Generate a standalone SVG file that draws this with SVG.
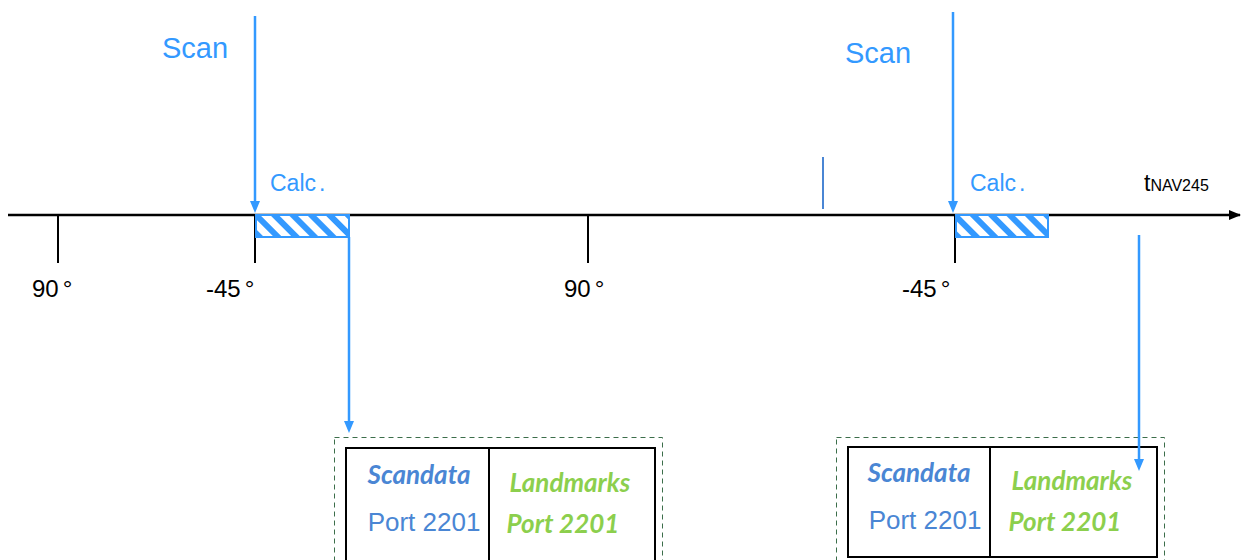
<svg xmlns="http://www.w3.org/2000/svg" width="1244" height="560" viewBox="0 0 1244 560">
<defs>
<marker id="ak" markerWidth="12" markerHeight="12" refX="11" refY="6" orient="auto" markerUnits="userSpaceOnUse">
<path d="M0,1 L12,6 L0,11 Z" fill="#000"/>
</marker>
<pattern id="hatch" width="13" height="13" patternUnits="userSpaceOnUse" patternTransform="rotate(-45)">
<rect width="13" height="13" fill="#fff"/>
<rect width="6" height="13" fill="#3399ff"/>
</pattern>
<style>
.ax{stroke:#000;stroke-width:2.5;fill:none}
.tk{stroke:#000;stroke-width:2;fill:none}
.bl{stroke:#3399ff;stroke-width:2.5;fill:none}
.ah{fill:#3399ff}
.deg{font-family:"Liberation Sans",Arial,sans-serif;font-size:24px;fill:#000}
.scan{font-family:"Liberation Sans",Arial,sans-serif;font-size:29px;fill:#3399ff}
.calc{font-family:"Liberation Sans",Arial,sans-serif;font-size:23px;fill:#3399ff}
.dash{stroke:#3c6e4a;stroke-width:1;fill:none;stroke-dasharray:5 4}
.box{stroke:#000;stroke-width:2;fill:#fff}
.sd{font-family:Lato,"Open Sans",sans-serif;font-weight:bold;font-style:italic;font-size:26px;fill:#4a86d4}
.p1{font-family:"Liberation Sans",Arial,sans-serif;font-size:26px;fill:#4a86d4}
.lm{font-family:Lato,"Open Sans",sans-serif;font-weight:bold;font-style:italic;font-size:26px;fill:#8ccf4d}
</style>
</defs>
<g id="axis">
<line class="ax" x1="8" y1="215" x2="1240" y2="215" marker-end="url(#ak)"/>
<line class="tk" x1="58" y1="215" x2="58" y2="263"/>
<line class="tk" x1="255" y1="215" x2="255" y2="263"/>
<line class="tk" x1="588" y1="215" x2="588" y2="263"/>
<line class="tk" x1="955" y1="215" x2="955" y2="263"/>
<text class="deg" x="32" y="297">90<tspan dx="4">°</tspan></text>
<text class="deg" x="206" y="297">-45<tspan dx="4">°</tspan></text>
<text class="deg" x="564" y="297">90<tspan dx="4">°</tspan></text>
<text class="deg" x="902" y="297">-45<tspan dx="4">°</tspan></text>
<text font-family="'Liberation Sans',Arial,sans-serif" font-size="23" x="1144" y="191">t<tspan font-size="16">NAV245</tspan></text>
</g>
<g id="scan1">
<text class="scan" x="162" y="58">Scan</text>
<text class="calc" x="270" y="191">Calc<tspan dx="3">.</tspan></text>
<rect x="256" y="215" width="93" height="22" fill="url(#hatch)" stroke="#3399ff" stroke-width="2"/>
</g>
<g id="scan2">
<text class="scan" x="845" y="63">Scan</text>
<text class="calc" x="970" y="191">Calc<tspan dx="3">.</tspan></text>
<rect x="956" y="215" width="92" height="22" fill="url(#hatch)" stroke="#3399ff" stroke-width="2"/>
</g>
<g id="marker">
<line x1="823" y1="157" x2="823" y2="209" stroke="#4a86d4" stroke-width="2"/>
</g>
<g id="port1">
<rect class="dash" x="334.5" y="437.5" width="328" height="130"/>
<rect class="box" x="346" y="448" width="309" height="120"/>
<line class="tk" x1="489" y1="448" x2="489" y2="568"/>
<text class="sd" x="419" y="484" text-anchor="middle">Scandata</text>
<text class="p1" x="424" y="531" text-anchor="middle">Port 2201</text>
<text class="lm" x="570" y="492" text-anchor="middle">Landmarks</text>
<text class="lm" x="563" y="533" text-anchor="middle">Port 2201</text>
</g>
<g id="port2">
<rect class="dash" x="836.5" y="437.5" width="328" height="130"/>
<rect class="box" x="848" y="447" width="309" height="110"/>
<line class="tk" x1="990" y1="447" x2="990" y2="557"/>
<text class="sd" x="919" y="482" text-anchor="middle">Scandata</text>
<text class="p1" x="925" y="529" text-anchor="middle">Port 2201</text>
<text class="lm" x="1072" y="490" text-anchor="middle">Landmarks</text>
<text class="lm" x="1065" y="531" text-anchor="middle">Port 2201</text>
</g>
<g id="connectors">
<line class="bl" x1="255" y1="16" x2="255" y2="202"/>
<path class="ah" d="M250,201 L260,201 L255,213 Z"/>
<line class="bl" x1="953" y1="12" x2="953" y2="202"/>
<path class="ah" d="M948,201 L958,201 L953,213 Z"/>
<line class="bl" x1="349" y1="237" x2="349" y2="422"/>
<path class="ah" d="M344,421 L354,421 L349,433 Z"/>
<line class="bl" x1="1139" y1="235" x2="1139" y2="460"/>
<path class="ah" d="M1134,459 L1144,459 L1139,471 Z"/>
</g>
</svg>
